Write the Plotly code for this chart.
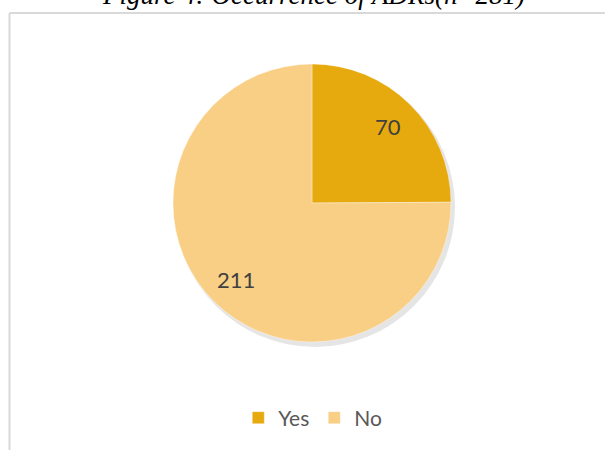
import math
import plotly.graph_objects as go

labels = ["Yes", "No"]
values = [70, 211]
colors = ["#e7aa0e", "#f9cf86"]
title_text = "Figure 4: Occurrence of ADRs(n=281)"

W, H = 605, 450
cx, cy, r = 312, 203, 139

fig = go.Figure()
fig.add_trace(go.Pie(
    labels=labels, values=values,
    sort=False, direction="clockwise", rotation=0,
    marker=dict(colors=colors, line=dict(color="rgba(255,255,255,0.35)", width=1)),
    textinfo="none",
    hoverinfo="label+value",
    domain=dict(x=[(cx - r) / W, (cx + r) / W], y=[1 - (cy + r) / H, 1 - (cy - r) / H]),
))

# data labels placed along each slice's mid-angle (Excel "best fit" style)
annotations = []
total = sum(values)
cum = 0
for v in values:
    mid = (cum + v / 2) / total * 2 * math.pi
    cum += v
    px = cx + 0.775 * r * math.sin(mid)
    py = cy - 0.775 * r * math.cos(mid)
    annotations.append(dict(text=str(v), xref="paper", yref="paper", x=px / W, y=1 - py / H,
                            xanchor="center", yanchor="middle", showarrow=False,
                            font=dict(family="Lato, Open Sans, sans-serif", size=22, color="#404040")))

annotations.append(dict(text=title_text, xref="paper", yref="paper", x=313 / W, y=1 - 12 / H,
                        xanchor="center", yanchor="bottom", showarrow=False,
                        font=dict(family="Liberation Serif, Times New Roman, serif", size=27,
                                  color="#000000", style="italic")))

shapes = [
    dict(type="circle", xref="paper", yref="paper", layer="below",
         x0=(cx - r + 2) / W, x1=(cx + r + 4) / W,
         y0=1 - (cy + r + 5) / H, y1=1 - (cy - r + 3) / H,
         fillcolor="rgba(0,0,0,0.10)", line=dict(width=0)),
    dict(type="line", xref="paper", yref="paper", x0=9.5 / W, x1=1, y0=1 - 13 / H, y1=1 - 13 / H,
         line=dict(color="#d9d9d9", width=2)),
    dict(type="line", xref="paper", yref="paper", x0=9.5 / W, x1=9.5 / W, y0=0, y1=1 - 13 / H,
         line=dict(color="#d9d9d9", width=2)),
]

fig.update_layout(
    width=W, height=H,
    margin=dict(l=0, r=0, t=0, b=0),
    paper_bgcolor="white", plot_bgcolor="white",
    showlegend=True,
    legend=dict(orientation="h", x=0.517, xanchor="center", y=1 - 418 / H, yanchor="middle",
                font=dict(family="Lato, Open Sans, sans-serif", size=21, color="#595959"),
                itemwidth=30, traceorder="normal"),
    shapes=shapes,
    annotations=annotations,
)

fig.write_html("out.html")
